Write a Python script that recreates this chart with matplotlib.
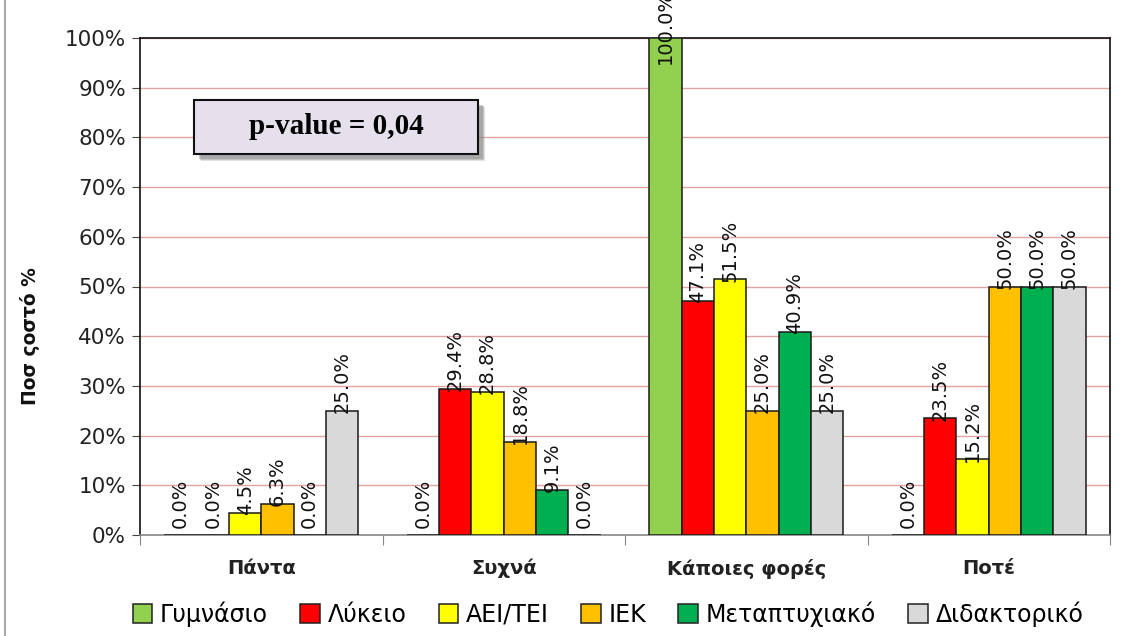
import matplotlib
matplotlib.use("Agg")
import matplotlib.pyplot as plt
import numpy as np
from matplotlib.patches import Rectangle
from matplotlib.lines import Line2D

categories = ["Πάντα", "Συχνά", "Κάποιες φορές", "Ποτέ"]
series_names = ["Γυμνάσιο", "Λύκειο", "ΑΕΙ/ΤΕΙ", "ΙΕΚ", "Μεταπτυχιακό", "Διδακτορικό"]
gymnasio = [0.0, 0.0, 100.0, 0.0]
lykeio = [0.0, 29.4, 47.1, 23.5]
aei_tei = [4.5, 28.8, 51.5, 15.2]
iek = [6.3, 18.8, 25.0, 50.0]
metaptyxiako = [0.0, 9.1, 40.9, 50.0]
didaktoriko = [25.0, 0.0, 25.0, 50.0]
yticks = [0, 10, 20, 30, 40, 50, 60, 70, 80, 90, 100]
colors = ["#92D050", "#FF0000", "#FFFF00", "#FFC000", "#00B050", "#D9D9D9"]
p_text = "p-value = 0,04"
ylabel = "Ποσ ςοστό %"

series = [gymnasio, lykeio, aei_tei, iek, metaptyxiako, didaktoriko]

W, H = 1132, 636
fig = plt.figure(figsize=(W / 100, H / 100), dpi=100)
ax = fig.add_axes([140 / W, 1 - 535 / H, (1110 - 140) / W, (535 - 38) / H])

x = np.arange(len(categories))
bw = 0.133
offsets = (np.arange(len(series)) - (len(series) - 1) / 2) * bw

for i, (vals, c, name) in enumerate(zip(series, colors, series_names)):
    ax.bar(x + offsets[i], vals, width=bw, color=c, edgecolor="#1a1a1a",
           linewidth=1.1, label=name, zorder=3)
    for xi, v in zip(x + offsets[i], vals):
        if v >= 99:
            yv = 94.8
        elif v == 0:
            yv = 1.5
        else:
            yv = v - 0.5
        ax.text(xi, yv, f"{v:.1f}%", rotation=90, ha="center", va="bottom",
                fontsize=14, family="DejaVu Sans", zorder=5, clip_on=False,
                color="#111111")

ax.set_xlim(-0.5, len(categories) - 0.5)
ax.set_ylim(0, 100)
ax.set_yticks(yticks)
ax.set_yticklabels([f"{t}%" for t in yticks], fontsize=15.5, color="#222222")
ax.yaxis.grid(True, color="#E3A3A3", linewidth=1.0, zorder=0)
ax.set_axisbelow(True)

ax.set_xticks(np.arange(len(categories) + 1) - 0.5)
ax.set_xticklabels([])
ax.tick_params(axis="x", length=7, color="#888888", direction="out")
ax.tick_params(axis="y", length=6, color="#444444", direction="out", pad=4)
ax.set_xticks(x, minor=True)
ax.set_xticklabels(categories, minor=True, fontsize=14, fontweight="bold", color="#222222")
ax.tick_params(axis="x", which="minor", length=0, pad=17)

for s in ["top", "right", "left"]:
    ax.spines[s].set_color("#111111")
    ax.spines[s].set_linewidth(1.2)
ax.spines["bottom"].set_color("#888888")
ax.spines["bottom"].set_linewidth(1.2)

ax.set_ylabel(ylabel, fontsize=13.5, fontweight="bold", color="#111111")
ax.yaxis.set_label_coords(-0.103, 0.4)

# p-value box with shadow
bx0, by0, bw_, bh_ = 194 / W, 1 - 154 / H, (478 - 194) / W, (154 - 100) / H
for k, a in [(7, 0.25), (6, 0.35), (5, 0.45)]:
    shadow = Rectangle((bx0 + k / W, by0 - k / H), bw_, bh_, transform=fig.transFigure,
                       facecolor="#8a8a8a", edgecolor="none", alpha=a, zorder=6)
    fig.patches.append(shadow)
box = Rectangle((bx0, by0), bw_, bh_, transform=fig.transFigure,
                facecolor="#E6E0EC", edgecolor="#111111", linewidth=1.5, zorder=7)
fig.patches.append(box)
fig.text(bx0 + bw_ / 2, by0 + bh_ / 2, p_text, ha="center", va="center",
         fontsize=21, fontweight="bold", family="Liberation Serif", zorder=8)

# outer border line on the left
fig.add_artist(Line2D([5 / W, 5 / W], [0, 1], color="#AAAAAA", linewidth=1.5,
                      transform=fig.transFigure))

leg = fig.legend(loc="center", bbox_to_anchor=(608 / W, 1 - 614 / H), ncol=6,
                 frameon=False, fontsize=17, handlelength=0.82, handleheight=0.82,
                 handletextpad=0.33, columnspacing=1.37, borderpad=0.2)
for h in leg.legend_handles:
    h.set_edgecolor("#222222")

fig.savefig("out.png", dpi=100)
